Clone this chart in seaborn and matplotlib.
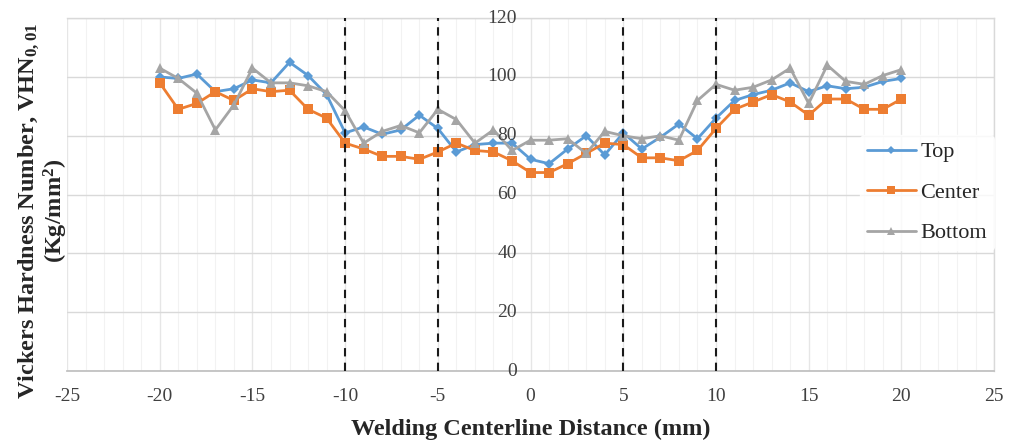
import numpy as np
import pandas as pd
import matplotlib
matplotlib.use("Agg")
import matplotlib.pyplot as plt
import seaborn as sns
from matplotlib.ticker import MultipleLocator

# Measurement positions across the weld (mm)
distance = list(range(-20, 21))

# Vickers hardness at each position, three depths through the plate
top = [100, 99.5, 101, 95, 96, 99, 98, 105, 100.5, 94, 81,
       83, 80.5, 82, 87, 82.5, 74.5, 77, 77.5, 77.5, 72,
       70.5, 75.5, 80, 73.5, 81, 75.5, 79.5, 84, 79, 86,
       92, 94, 95.5, 98, 95, 97, 96, 96.5, 98.5, 99.5]
center = [98, 89, 91, 95, 92, 96, 95, 95.5, 89, 86, 77.5,
          75.5, 73, 73, 72, 74.5, 77.5, 75, 74.5, 71.5, 67.5,
          67.5, 70.5, 74, 77.5, 77, 72.5, 72.5, 71.5, 75, 82.5,
          89, 91.5, 94, 91.5, 87, 92.5, 92.5, 89, 89, 92.5]
bottom = [103, 99.5, 94.5, 82, 90.5, 103, 98, 98, 97, 95, 88.5,
          77.5, 81.5, 83.5, 81, 89, 85.5, 77.5, 82, 75, 78.5,
          78.5, 79, 74, 81.5, 80, 79, 80, 78.5, 92, 97.5,
          95.5, 96.5, 99, 103, 91, 104, 98.5, 97.5, 100.5, 102.5]

series_names = ["Top", "Center", "Bottom"]
zone_bounds = [-10, -5, 5, 10]
x_ticks = list(range(-25, 30, 5))
y_ticks = list(range(0, 140, 20))

df = pd.DataFrame({
    "distance": distance * 3,
    "hardness": top + center + bottom,
    "position": [n for n in series_names for _ in distance],
})

sns.set_theme(style="white")
plt.rcParams["font.family"] = ["Liberation Serif", "DejaVu Serif"]
plt.rcParams["mathtext.default"] = "regular"
plt.rcParams["axes.unicode_minus"] = False

fig = plt.figure(figsize=(10.11, 4.43), dpi=100)
ax = fig.add_axes([0.0663, 0.1625, 0.9170, 0.7965])

palette = {"Top": "#5B9BD5", "Center": "#ED7D31", "Bottom": "#A5A5A5"}
markers = {"Top": "D", "Center": "s", "Bottom": "^"}
sizes_m = {"Top": 5, "Center": 6.5, "Bottom": 7}

sns.lineplot(data=df, x="distance", y="hardness", hue="position",
             style="position", markers=markers, dashes=False,
             palette=palette, linewidth=2.0, markersize=6,
             markeredgewidth=0, ax=ax, legend=False, zorder=3)
for line, name in zip(ax.get_lines(), series_names):
    line.set_markersize(sizes_m[name])

# Heat-affected zone boundaries
for xb in zone_bounds:
    ax.axvline(xb, color="#1a1a1a", linestyle=(0, (4, 3)), linewidth=1.5, zorder=4)

ax.set_xlim(-25, 25)
ax.set_ylim(0, 120)
ax.set_xticks(x_ticks)
ax.set_yticks(y_ticks)
ax.xaxis.set_minor_locator(MultipleLocator(1))
ax.grid(axis="y", which="major", color="#d9d9d9", linewidth=1.0, zorder=0)
ax.grid(axis="x", which="major", color="#e6e6e6", linewidth=1.0, zorder=0)
ax.grid(axis="x", which="minor", color="#f2f2f2", linewidth=0.8, zorder=0)
ax.set_axisbelow(True)

for side in ["top", "right", "left"]:
    ax.spines[side].set_color("#d9d9d9")
    ax.spines[side].set_linewidth(1.0)
ax.spines["bottom"].set_color("#bfbfbf")

# y axis crosses at x = 0
ax.spines["left"].set_visible(False)
ax.tick_params(axis="both", length=0, labelsize=14, colors="#404040")
ax.tick_params(axis="x", pad=12)
ax.set_yticklabels([])
for yv in y_ticks:
    ax.text(-0.75, yv, str(yv), ha="right", va="center", fontsize=14,
            color="#404040", zorder=5)

ax.set_xlabel("Welding Centerline Distance (mm)", fontsize=17.5,
              fontweight="bold", labelpad=10)
fig.text(0.029, 0.525, "Vickers Hardness Number, VHN$_{0,01}$",
         rotation=90, ha="center", va="center", fontsize=17.5, fontweight="bold")
fig.text(0.055, 0.525, "(Kg/mm$^{2}$)", rotation=90, ha="center", va="center",
         fontsize=17.5, fontweight="bold")
ax.set_ylabel("")

handles = [plt.Line2D([], [], color=palette[n], marker=markers[n],
                      markersize=sizes_m[n] - 1, linewidth=2.0, markeredgewidth=0)
           for n in series_names]
leg = ax.legend(handles, series_names, loc="upper left",
                bbox_to_anchor=(0.84, 0.72), bbox_transform=fig.transFigure,
                frameon=True, fontsize=16, handlelength=2.2, handletextpad=0.2,
                labelspacing=0.9, borderpad=0.3)
leg.get_frame().set_facecolor("white")
leg.get_frame().set_edgecolor("white")
leg.set_zorder(6)

fig.savefig("out.png", dpi=100)
